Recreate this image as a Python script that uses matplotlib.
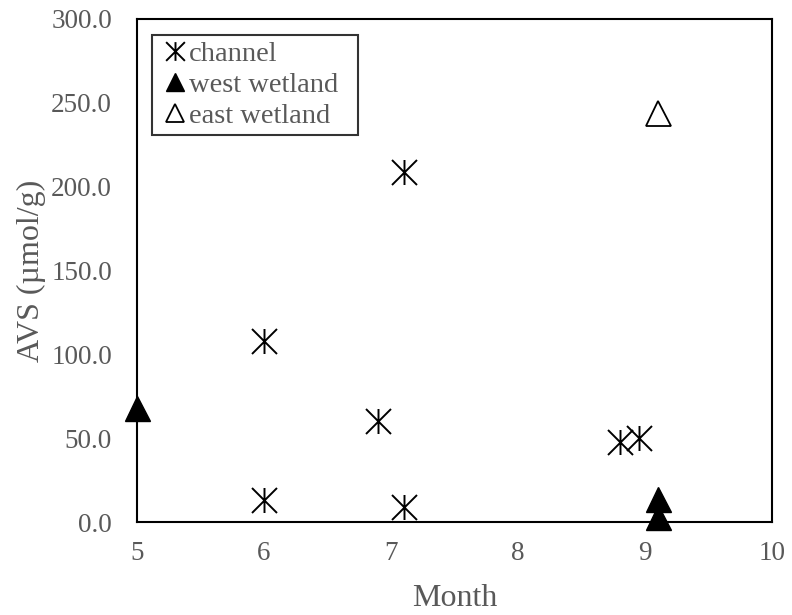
import numpy as np
import matplotlib.pyplot as plt
from matplotlib.path import Path

# AVS per sampling month
channel_month = [6.0, 6.0, 6.9, 7.1, 7.1, 8.8, 8.95]
channel_avs = [108.0, 13.0, 60.0, 209.0, 9.0, 48.0, 50.0]

west_month = [5.0, 9.1, 9.1]
west_avs = [68.0, 14.0, 3.0]

east_month = [9.1]
east_avs = [244.0]

plt.rcParams['font.family'] = ['Liberation Serif', 'DejaVu Serif']
grey = '#595959'

# x-with-a-vertical-bar marker
star = Path([(-1, -1), (1, 1), (-1, 1), (1, -1), (0, -1), (0, 1)],
            [Path.MOVETO, Path.LINETO, Path.MOVETO, Path.LINETO, Path.MOVETO, Path.LINETO])

fig = plt.figure(figsize=(7.92, 6.15), dpi=100)
ax = fig.add_axes([137 / 792, 1 - 522 / 615, 635 / 792, 503 / 615])

ax.plot(channel_month, channel_avs, linestyle='none', marker=star, markersize=18,
        markeredgecolor='black', markerfacecolor='none', markeredgewidth=1.4,
        label='channel', clip_on=False)
ax.plot(west_month, west_avs, linestyle='none', marker='^', markersize=18,
        color='black', label='west wetland  ', clip_on=False)
ax.plot(east_month, east_avs, linestyle='none', marker='^', markersize=18,
        markerfacecolor='white', markeredgecolor='black', markeredgewidth=1.3,
        label='east wetland', clip_on=False)

ax.set_xlim(5, 10)
ax.set_ylim(0, 300)
ax.set_xticks(np.arange(5, 11, 1))
ax.set_yticks(np.arange(0, 301, 50))
ax.set_yticklabels([f'{v:.1f}' for v in np.arange(0, 301, 50)])
ax.tick_params(length=0, labelsize=19.5, labelcolor=grey)
ax.tick_params(axis='y', pad=18)
ax.tick_params(axis='x', pad=14)

for s in ax.spines.values():
    s.set_linewidth(1.5)
    s.set_color('black')

ax.set_xlabel('Month', fontsize=23, color=grey, labelpad=13)
ax.set_ylabel('AVS (µmol/g)', fontsize=23, color=grey, labelpad=4)

leg = ax.legend(loc='upper left', bbox_to_anchor=(0.0236, 0.968), borderaxespad=0,
                fontsize=20.5, frameon=True, fancybox=False, edgecolor='black',
                handlelength=1.25, handletextpad=-0.15, borderpad=0.2,
                labelspacing=0.18, markerscale=0.75)
leg.get_frame().set_linewidth(1.5)
for t in leg.get_texts():
    t.set_color(grey)

fig.savefig('out.png', dpi=100)
